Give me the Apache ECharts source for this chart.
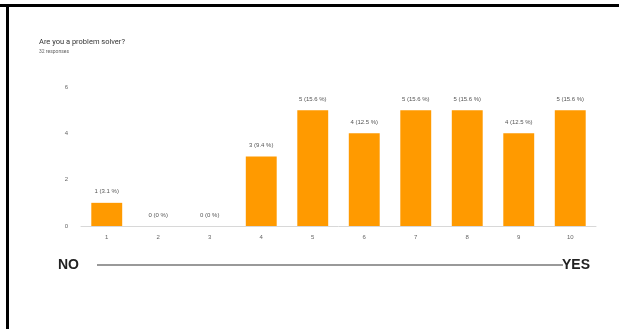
<!DOCTYPE html>
<html>
<head>
<meta charset="utf-8">
<script src="https://cdn.jsdelivr.net/npm/echarts@6/dist/echarts.min.js"></script>
<style>
html,body{margin:0;padding:0;background:#fff;}
#c{width:619px;height:329px;}
</style>
</head>
<body>
<div id="c"></div>
<script>
const categories = ['1','2','3','4','5','6','7','8','9','10'];
const counts = [1,0,0,3,5,4,5,5,4,5];
const percents = ['3.1','0','0','9.4','15.6','12.5','15.6','15.6','12.5','15.6'];
const yTicks = [0,2,4,6];
const titleText = 'Are you a problem solver?';
const subtitleText = '32 responses';

const chart = echarts.init(document.getElementById('c'));
chart.setOption({
  backgroundColor: '#ffffff',
  animation: false,
  title: {
    text: titleText,
    subtext: subtitleText,
    left: 34, top: 33,
    itemGap: 3,
    textStyle: {fontSize: 7.5, color: '#333', fontWeight: 'normal', fontFamily: 'Roboto'},
    subtextStyle: {fontSize: 5, color: '#666', fontFamily: 'Roboto'}
  },
  grid: {left: 81, right: 23, top: 87, bottom: 103},
  xAxis: {
    type: 'category',
    data: categories,
    axisLine: {lineStyle: {color: '#d8d8d8'}},
    axisTick: {show: false},
    axisLabel: {fontSize: 6, color: '#666', margin: 8}
  },
  yAxis: {
    type: 'value',
    min: yTicks[0], max: yTicks[yTicks.length-1], interval: 2,
    axisLine: {show: false},
    axisTick: {show: false},
    splitLine: {show: false},
    axisLabel: {fontSize: 6, color: '#666', margin: 13}
  },
  series: [{
    type: 'bar',
    data: counts,
    barWidth: '60%',
    itemStyle: {color: '#FF9A00'},
    label: {
      show: true, position: 'top', distance: 8,
      fontSize: 6, color: '#555',
      formatter: p => p.value + ' (' + percents[p.dataIndex] + ' %)'
    }
  }],
  graphic: [
    {type: 'rect', shape: {x: 0, y: 4, width: 619, height: 3}, style: {fill: '#000'}},
    {type: 'rect', shape: {x: 6, y: 4, width: 3, height: 325}, style: {fill: '#000'}},
    {type: 'text', left: 58, top: 258, style: {text: 'NO', font: 'bold 14px Liberation Sans', fill: '#222'}},
    {type: 'line', shape: {x1: 97, y1: 265, x2: 563, y2: 265}, style: {stroke: '#777', lineWidth: 1.5}},
    {type: 'text', left: 562, top: 258, style: {text: 'YES', font: 'bold 14px Liberation Sans', fill: '#222'}}
  ]
});
</script>
</body>
</html>
